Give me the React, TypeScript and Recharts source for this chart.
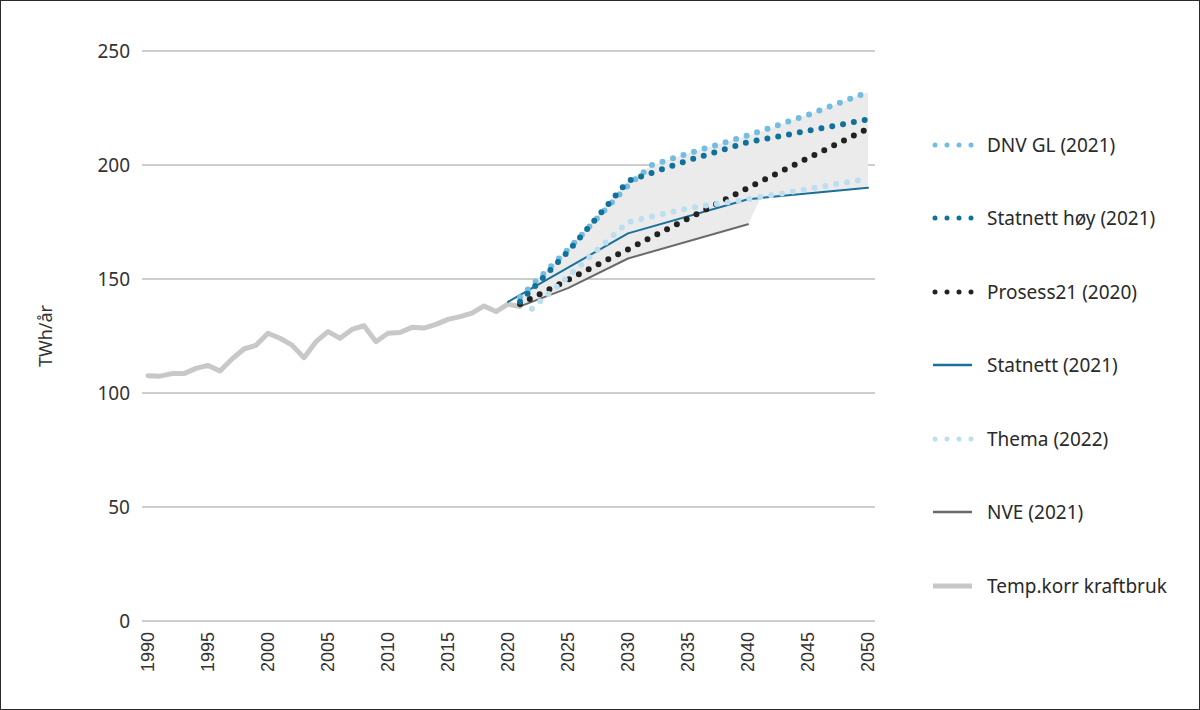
import {
  ComposedChart,
  Line,
  Area,
  XAxis,
  YAxis,
  CartesianGrid,
} from "recharts";

// Temperaturkorrigert kraftbruk, 1990-2021
const histYears = [
  1990, 1991, 1992, 1993, 1994, 1995, 1996, 1997, 1998, 1999, 2000, 2001,
  2002, 2003, 2004, 2005, 2006, 2007, 2008, 2009, 2010, 2011, 2012, 2013,
  2014, 2015, 2016, 2017, 2018, 2019, 2020, 2021,
];
const histValues = [
  107.6, 107.4, 108.5, 108.5, 110.8, 112.1, 109.6, 114.9, 119.3, 120.9, 126.2,
  124, 121, 115.5, 122.5, 126.9, 124, 127.9, 129.5, 122.5, 126.2, 126.5, 128.8,
  128.5, 130.1, 132.3, 133.5, 135, 138.2, 135.7, 139, 137.9,
];

// Prognoser
const dnvYears = [2021, 2025, 2030, 2032, 2035, 2040, 2045, 2050];
const dnvValues = [142, 163, 191, 200, 205, 213, 222, 232];

const hoyYears = [2021, 2025, 2030, 2035, 2040, 2050];
const hoyValues = [140, 162, 193, 202, 210, 220];

const prosessYears = [2021, 2030, 2040, 2050];
const prosessValues = [139, 163, 190, 216];

const statnettYears = [2020, 2030, 2040, 2050];
const statnettValues = [140, 170, 185, 190];

const themaYears = [2022, 2025, 2030, 2035, 2040, 2050];
const themaValues = [137, 151, 175, 181, 185, 194];

const nveYears = [2021, 2025, 2030, 2040];
const nveValues = [138, 146, 159, 174];

// Utfallsrom (grått felt)
const bandYears = [2021, 2025, 2030, 2032, 2035, 2040, 2041, 2045, 2050];
const bandLow = [138, 146, 159, 162, 166.5, 174, 185, 187.5, 190];
const bandHigh = [142, 163, 193, 200, 205, 213, 214.5, 222, 232];

const xTicks = [1990, 1995, 2000, 2005, 2010, 2015, 2020, 2025, 2030, 2035, 2040, 2045, 2050];
const yTicks = [0, 50, 100, 150, 200, 250];

const series = [
  { key: "dnv", name: "DNV GL (2021)", years: dnvYears, values: dnvValues, color: "#74bde0", dotted: true },
  { key: "hoy", name: "Statnett høy (2021)", years: hoyYears, values: hoyValues, color: "#10719b", dotted: true },
  { key: "prosess", name: "Prosess21 (2020)", years: prosessYears, values: prosessValues, color: "#222222", dotted: true },
  { key: "statnett", name: "Statnett (2021)", years: statnettYears, values: statnettValues, color: "#1a6f9b", dotted: false },
  { key: "thema", name: "Thema (2022)", years: themaYears, values: themaValues, color: "#bcdff0", dotted: true },
  { key: "nve", name: "NVE (2021)", years: nveYears, values: nveValues, color: "#6a6a6a", dotted: false },
  { key: "hist", name: "Temp.korr kraftbruk", years: histYears, values: histValues, color: "#c8c8c8", dotted: false },
];

const rowMap = new Map<number, any>();
const row = (y: number) => {
  if (!rowMap.has(y)) rowMap.set(y, { year: y });
  return rowMap.get(y);
};
series.forEach((s) => s.years.forEach((y, i) => (row(y)[s.key] = s.values[i])));
bandYears.forEach((y, i) => (row(y).band = [bandLow[i], bandHigh[i]]));
const data = Array.from(rowMap.values()).sort((a, b) => a.year - b.year);

const FONT = "'Noto Sans', sans-serif";
const TEXT = "#333333";

const XTick = ({ x, y, payload }: any) => (
  <text
    x={x}
    y={y}
    transform={`rotate(-90 ${x} ${y})`}
    textAnchor="end"
    dominantBaseline="central"
    fontSize={18}
    fontFamily="'Liberation Sans', Arial, sans-serif"
    fill={TEXT}
  >
    {payload.value}
  </text>
);

const LegendBlock = () => (
  <div style={{ position: "absolute", left: 930, top: 108, fontFamily: FONT }}>
    {series.map((s) => (
      <div key={s.key} style={{ display: "flex", alignItems: "center", height: 73.5 }}>
        <svg width={46} height={12} style={{ marginRight: 11 }}>
          {s.dotted ? (
            <line
              x1={5}
              y1={6}
              x2={42.5}
              y2={6}
              stroke={s.color}
              strokeWidth={5}
              strokeLinecap="round"
              strokeDasharray="0 12"
            />
          ) : (
            <line
              x1={3}
              y1={6}
              x2={42}
              y2={6}
              stroke={s.color}
              strokeWidth={s.key === "hist" ? 5 : 2.5}
            />
          )}
        </svg>
        <span style={{ fontSize: 19, color: "#2a2a2a" }}>{s.name}</span>
      </div>
    ))}
  </div>
);

const order = ["hist", "nve", "statnett", "prosess", "thema", "dnv", "hoy"];

export default function App() {
  return (
    <div
      style={{
        position: "absolute",
        left: 0,
        top: 0,
        width: 1200,
        height: 710,
        background: "#fff",
      }}
    >
      <ComposedChart
        width={1200}
        height={710}
        data={data}
        margin={{ top: 51, right: 325, bottom: 29, left: 30 }}
      >
        <CartesianGrid vertical={false} stroke="#9c9c9c" />
        <XAxis
          dataKey="year"
          type="number"
          domain={[1990, 2050]}
          ticks={xTicks}
          padding={{ left: 6, right: 7 }}
          axisLine={false}
          tickLine={false}
          tickSize={0}
          tickMargin={11}
          height={60}
          tick={<XTick />}
          interval={0}
        />
        <YAxis
          domain={[0, 250]}
          ticks={yTicks}
          width={112}
          axisLine={false}
          tickLine={false}
          tickSize={0}
          tickMargin={12}
          tick={{ fontSize: 19, fill: TEXT, fontFamily: FONT }}
          label={{
            value: "TWh/år",
            angle: -90,
            position: "insideLeft",
            offset: 16,
            style: { textAnchor: "middle", fontSize: 18, fill: TEXT, fontFamily: FONT },
          }}
        />
        <Area
          dataKey="band"
          type="linear"
          fill="#ebebeb"
          fillOpacity={1}
          stroke="none"
          connectNulls
          isAnimationActive={false}
          dot={false}
          activeDot={false}
        />
        {order.map((k) => {
          const s = series.find((d) => d.key === k)!;
          return (
            <Line
              key={k}
              dataKey={k}
              type="linear"
              stroke={s.color}
              strokeWidth={s.dotted ? 6 : k === "hist" ? 5 : 2}
              strokeDasharray={s.dotted ? "0 11" : undefined}
              strokeLinecap="round"
              strokeLinejoin="round"
              connectNulls
              dot={false}
              activeDot={false}
              isAnimationActive={false}
            />
          );
        })}
      </ComposedChart>
      <LegendBlock />
      <div
        style={{
          position: "absolute",
          inset: 0,
          border: "1px solid #2b2b2b",
          pointerEvents: "none",
        }}
      />
    </div>
  );
}
